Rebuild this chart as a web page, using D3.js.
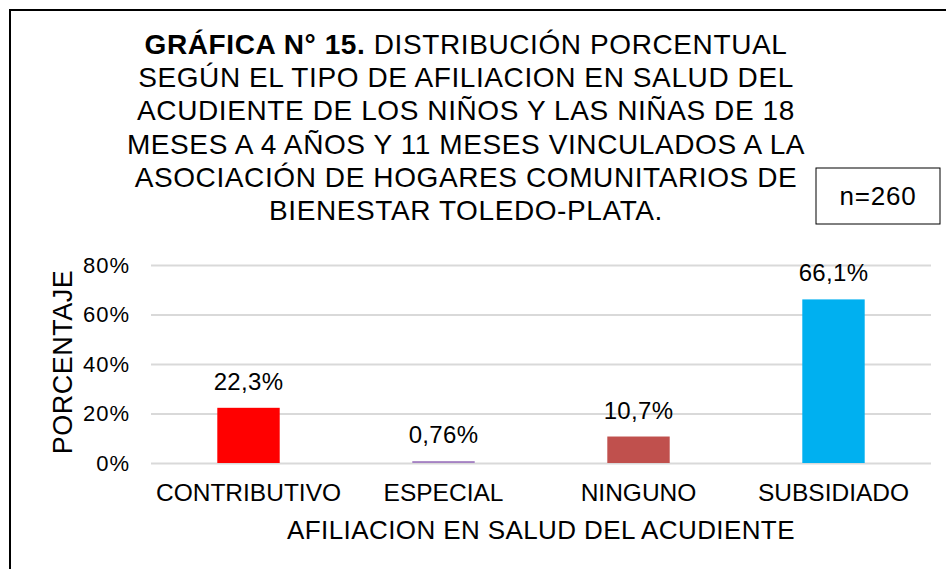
<!DOCTYPE html>
<html>
<head>
<meta charset="utf-8">
<script src="https://cdn.jsdelivr.net/npm/d3@7"></script>
<style>
  body { margin: 0; background: #fff; }
  svg { display: block; font-family: "Liberation Sans", Arial, sans-serif; }
</style>
</head>
<body>
<svg id="chart" width="946" height="569"></svg>
<script>
// chart data
const categories = ["CONTRIBUTIVO", "ESPECIAL", "NINGUNO", "SUBSIDIADO"];
const values = [22.3, 0.76, 10.7, 66.1];
const valueLabels = ["22,3%", "0,76%", "10,7%", "66,1%"];
const barColors = ["#ff0000", "#a582c3", "#c0504d", "#00b0f0"];
const yTicks = [0, 20, 40, 60, 80];
const titleLines = [
  ["GRÁFICA N° 15.", " DISTRIBUCIÓN PORCENTUAL"],
  ["", "SEGÚN EL TIPO DE AFILIACION EN SALUD DEL"],
  ["", "ACUDIENTE DE LOS NIÑOS Y LAS NIÑAS DE 18"],
  ["", "MESES A 4 AÑOS Y 11 MESES VINCULADOS A LA"],
  ["", "ASOCIACIÓN DE HOGARES COMUNITARIOS DE"],
  ["", "BIENESTAR TOLEDO-PLATA."]
];

const svg = d3.select("#chart");
const plot = { left: 151, right: 931, top: 265, bottom: 463 };
const FONT = "\"Liberation Sans\", Arial, sans-serif";

// outer frame (only left and top edges are inside the picture)
svg.append("path")
  .attr("d", "M10,569 V10 H946")
  .attr("fill", "none")
  .attr("stroke", "#000")
  .attr("stroke-width", 2);

// title
const title = svg.append("text")
  .attr("text-anchor", "middle")
  .attr("font-size", 28)
  .attr("letter-spacing", 0.6)
  .attr("fill", "#000");
titleLines.forEach((parts, i) => {
  const line = title.append("tspan")
    .attr("x", 466)
    .attr("y", 54 + i * 33.2);
  if (parts[0]) line.append("tspan").attr("font-weight", "bold").text(parts[0]);
  line.append("tspan").text(parts[1]);
});

// n box
svg.append("rect")
  .attr("x", 816).attr("y", 168)
  .attr("width", 124).attr("height", 56)
  .attr("fill", "#fff").attr("stroke", "#000").attr("stroke-width", 1);
svg.append("text")
  .attr("x", 878).attr("y", 205)
  .attr("text-anchor", "middle")
  .attr("font-size", 26)
  .attr("letter-spacing", 0.8)
  .text("n=260");

const x = d3.scaleBand()
  .domain(categories)
  .range([plot.left, plot.right])
  .paddingInner(0.68)
  .paddingOuter(0.34);

const y = d3.scaleLinear()
  .domain([0, 80])
  .range([plot.bottom, plot.top]);

// gridlines + tick labels
const yAxis = svg.append("g")
  .attr("transform", `translate(${plot.left},0)`)
  .call(d3.axisLeft(y).tickValues(yTicks)
    .tickSize(-(plot.right - plot.left))
    .tickPadding(21)
    .tickFormat(d => d + "%"));
yAxis.select(".domain").remove();
yAxis.selectAll(".tick line").attr("stroke", "#d9d9d9").attr("stroke-width", 2);
yAxis.selectAll(".tick text")
  .attr("font-size", 22)
  .attr("letter-spacing", 1)
  .attr("font-family", FONT)
  .attr("fill", "#000");

// bars
svg.append("g").selectAll("rect")
  .data(values)
  .join("rect")
  .attr("x", (d, i) => x(categories[i]))
  .attr("y", d => y(d))
  .attr("width", x.bandwidth())
  .attr("height", d => y(0) - y(d))
  .attr("fill", (d, i) => barColors[i]);

// value labels
svg.append("g").selectAll("text")
  .data(values)
  .join("text")
  .attr("x", (d, i) => x(categories[i]) + x.bandwidth() / 2)
  .attr("y", d => y(d) - 18)
  .attr("text-anchor", "middle")
  .attr("font-size", 24)
  .attr("letter-spacing", 0.3)
  .text((d, i) => valueLabels[i]);

// category axis
const xAxis = svg.append("g")
  .attr("transform", `translate(0,${plot.bottom})`)
  .call(d3.axisBottom(x).tickSize(0).tickPadding(21));
xAxis.select(".domain").remove();
xAxis.selectAll(".tick text")
  .attr("font-size", 24.5)
  .attr("font-family", FONT)
  .attr("fill", "#000");

// axis titles
svg.append("text")
  .attr("x", 541).attr("y", 539)
  .attr("text-anchor", "middle")
  .attr("font-size", 26)
  .attr("letter-spacing", 0.4)
  .text("AFILIACION EN SALUD DEL ACUDIENTE");

svg.append("text")
  .attr("transform", "translate(72,362) rotate(-90)")
  .attr("text-anchor", "middle")
  .attr("font-size", 27)
  .attr("letter-spacing", 0.5)
  .text("PORCENTAJE");
</script>
</body>
</html>
